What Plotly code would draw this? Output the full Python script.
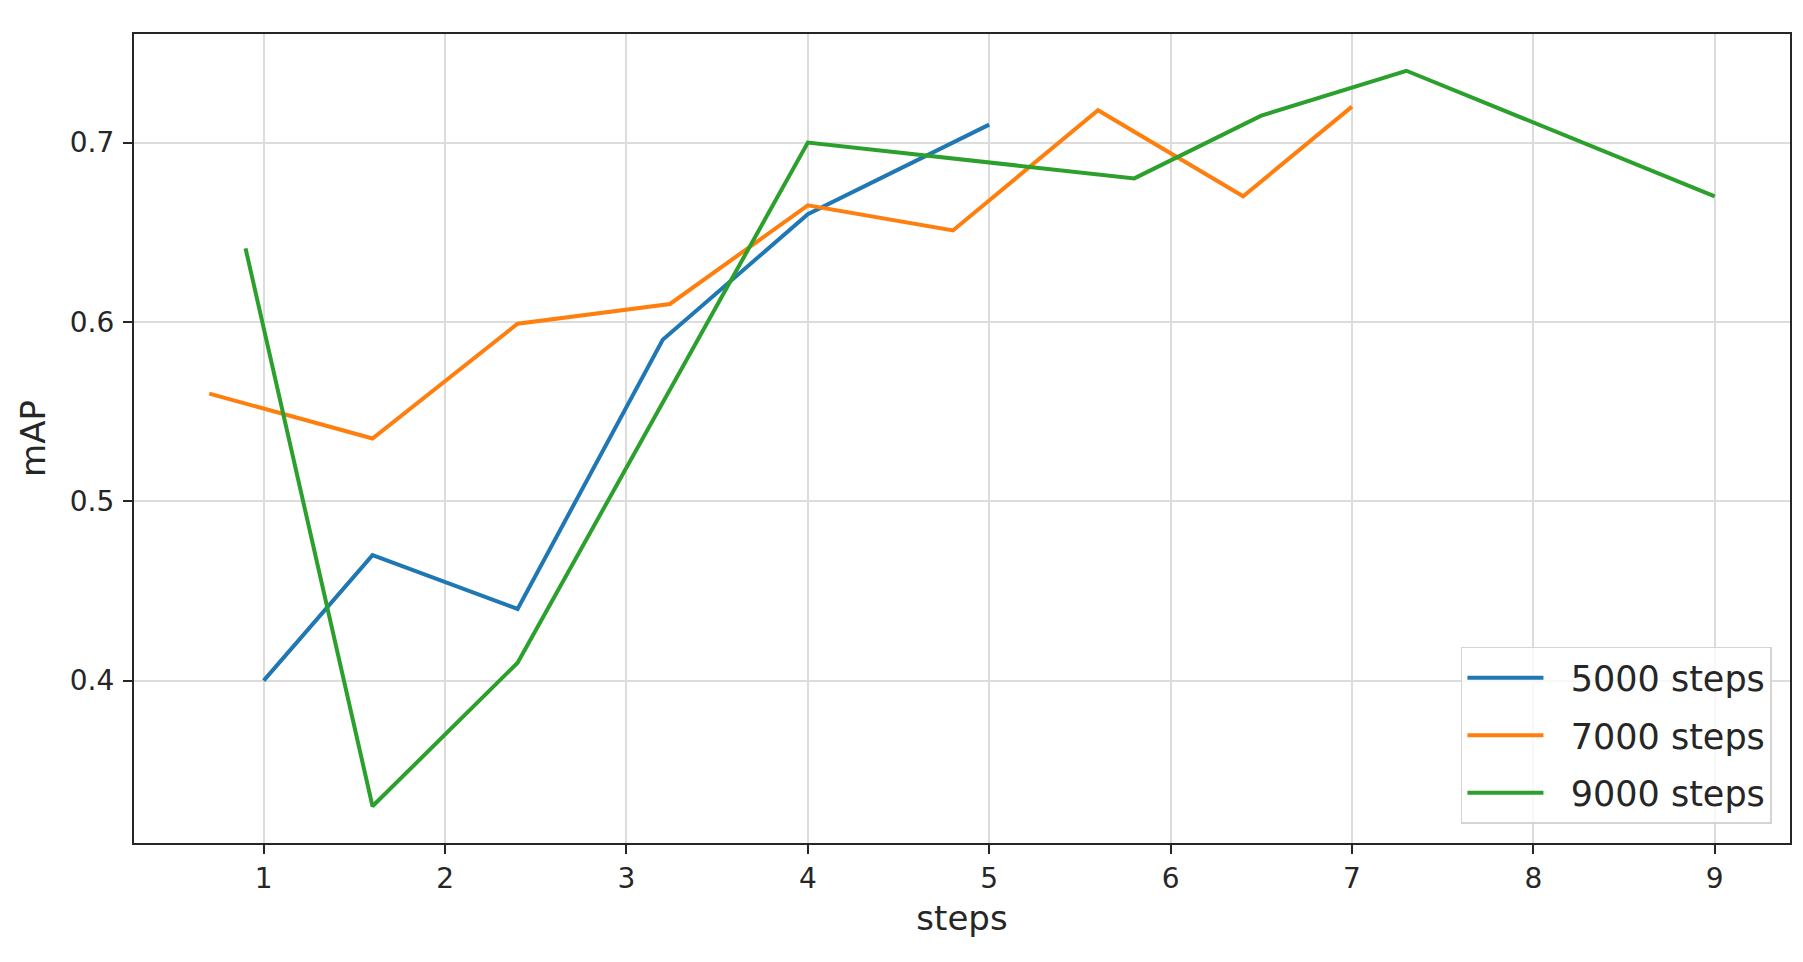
import plotly.graph_objects as go

FONT = "DejaVu Sans, Arial, sans-serif"
TEXT = "#262626"

# mAP per step
steps_5000 = [1.0, 1.6, 2.4, 3.2, 4.0, 5.0]
map_5000 = [0.40, 0.47, 0.44, 0.59, 0.66, 0.71]

steps_7000 = [0.7, 1.6, 2.4, 3.24, 4.0, 4.8, 5.6, 6.4, 7.0]
map_7000 = [0.56, 0.535, 0.599, 0.61, 0.665, 0.651, 0.718, 0.67, 0.72]

steps_9000 = [0.9, 1.6, 2.4, 3.2, 4.0, 5.8, 6.5, 7.3, 9.0]
map_9000 = [0.641, 0.33, 0.41, 0.555, 0.70, 0.68, 0.715, 0.74, 0.67]

series = [
    ("5000 steps", steps_5000, map_5000, "#1f77b4"),
    ("7000 steps", steps_7000, map_7000, "#ff7f0e"),
    ("9000 steps", steps_9000, map_9000, "#2ca02c"),
]

# the page body adds an 8px offset, so margins are shifted to compensate
PAD = "\u00a0\u00a0"

fig = go.Figure()
for name, xs, ys, color in series:
    fig.add_trace(
        go.Scatter(
            x=xs,
            y=ys,
            name=PAD + name,
            legendgroup=name,
            mode="lines",
            line=dict(color=color, width=4),
        )
    )

fig.update_layout(
    width=1803,
    height=962,
    paper_bgcolor="white",
    plot_bgcolor="white",
    margin=dict(l=126, r=21, t=26, b=127),
    font=dict(family=FONT, size=28, color=TEXT),
    showlegend=True,
    legend=dict(
        x=0.9891,
        y=0.0235,
        xanchor="right",
        yanchor="bottom",
        bgcolor="rgba(255,255,255,0.8)",
        bordercolor="#d4d4d4",
        borderwidth=1.5,
        font=dict(size=35, color=TEXT),
        itemwidth=76,
        tracegroupgap=9,
    ),
)

axis_common = dict(
    showline=True,
    mirror=True,
    linecolor="#262626",
    linewidth=2.2,
    ticks="outside",
    ticklen=9,
    tickwidth=2,
    tickcolor="#262626",
    showgrid=True,
    gridcolor="#dcdcdc",
    gridwidth=1.5,
    zeroline=False,
    automargin=False,
)

fig.update_xaxes(
    range=[0.285, 9.415],
    tickmode="array",
    tickvals=[1, 2, 3, 4, 5, 6, 7, 8, 9],
    title=dict(text="steps", font=dict(size=34), standoff=12),
    **axis_common,
)
fig.update_yaxes(
    range=[0.3095, 0.7605],
    tickmode="array",
    tickvals=[0.4, 0.5, 0.6, 0.7],
    tickformat=".1f",
    ticklabelstandoff=3,
    title=dict(text="mAP", font=dict(size=34), standoff=14),
    **axis_common,
)

fig.write_html("out.html")
